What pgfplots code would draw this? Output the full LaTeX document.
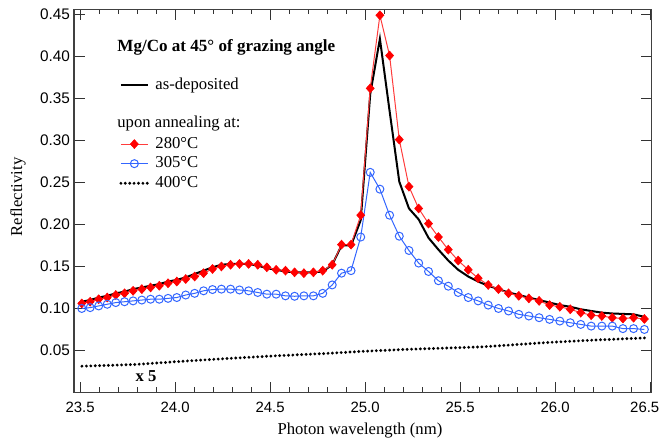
\documentclass[border=0pt]{standalone}
\usepackage{fontspec}
\setmainfont{Liberation Serif}
\setsansfont{Liberation Sans}
\usepackage{pgfplots}
\pgfplotsset{compat=1.18}
\definecolor{cblue}{RGB}{51,102,255}
\definecolor{cred}{RGB}{255,0,0}
\definecolor{credl}{RGB}{255,60,60}
\begin{document}
\begin{tikzpicture}
\useasboundingbox (0,0) rectangle (495pt,330.75pt);
\begin{axis}[
  at={(55.5pt,36.4pt)}, anchor=south west,
  scale only axis, width=433.2pt, height=287.5pt,
  xmin=23.468, xmax=26.508, ymin=0, ymax=0.4563,
  xtick={23.5,24.0,24.5,25.0,25.5,26.0,26.5},
  xticklabels={23.5,24.0,24.5,25.0,25.5,26.0,\hspace*{-8pt}26.5},
  minor x tick num=4,
  ytick={0.05,0.10,0.15,0.20,0.25,0.30,0.35,0.40,0.45},
  major tick length=7.9pt, minor tick length=4pt,
  axis line style={black!75, line width=0.9pt},
  every tick/.style={black!80, line width=0.8pt},
  /pgf/number format/assume math mode=true,
  xticklabel style={font=\sffamily\fontsize{11.2}{12}\selectfont, yshift=-3.5pt},
  yticklabel style={font=\sffamily\fontsize{11.5}{12}\selectfont, xshift=0.5pt,
    /pgf/number format/.cd, fixed, fixed zerofill, precision=2},
  scaled y ticks=false, scaled x ticks=false,
  xlabel={Photon wavelength (nm)},
  ylabel={Reflectivity},
  every axis x label/.style={at={(axis description cs:0.495,-0.098)}, anchor=center, font=\fontsize{12.5}{14}\selectfont},
  every axis y label/.style={at={(axis description cs:-0.097,0.51)}, rotate=90, anchor=center, font=\fontsize{12.5}{14}\selectfont},
  legend image code/.code={\draw[mark repeat=2,mark phase=2] plot coordinates {(0cm,0cm) (0.355cm,0cm) (0.71cm,0cm)};},
  legend style={at={(axis cs:23.705,0.3755)}, anchor=north west, draw=none, fill=none,
    inner sep=0pt, row sep=2.7pt, column sep=4.5pt,
    font=\fontsize{12.5}{14}\selectfont,
    nodes={inner sep=0pt, text height=9pt, text depth=3pt, anchor=west}},
  legend cell align=left,
]
% as-deposited
\addplot[black, line width=1.5pt] coordinates {
(23.509,0.108) (23.553,0.110) (23.598,0.113) (23.643,0.115) (23.688,0.118)
(23.734,0.120) (23.779,0.123) (23.825,0.125) (23.871,0.127) (23.917,0.129)
(23.963,0.132) (24.009,0.134) (24.056,0.137) (24.103,0.141) (24.150,0.145)
(24.197,0.149) (24.244,0.152) (24.292,0.153) (24.339,0.153) (24.387,0.153)
(24.435,0.151) (24.483,0.148) (24.532,0.146) (24.581,0.144) (24.629,0.143)
(24.678,0.143) (24.728,0.143) (24.777,0.144) (24.827,0.152) (24.876,0.175)
(24.926,0.175) (24.977,0.205) (25.027,0.355) (25.078,0.421) (25.129,0.335)
(25.180,0.251) (25.231,0.219) (25.282,0.206) (25.334,0.184) (25.386,0.170)
(25.438,0.157) (25.490,0.146) (25.543,0.138) (25.595,0.132) (25.648,0.127)
(25.702,0.123) (25.755,0.119) (25.809,0.116) (25.862,0.113) (25.916,0.110)
(25.971,0.107) (26.025,0.104) (26.080,0.102) (26.135,0.099) (26.190,0.097)
(26.246,0.095) (26.301,0.094) (26.357,0.0935) (26.413,0.093) (26.470,0.090)
};
\addlegendentry{as-deposited}
\addlegendimage{empty legend}\addlegendentry{}
\addlegendimage{empty legend}\addlegendentry{}
% 280 C
\addplot[credl, line width=0.75pt, mark=diamond*, mark size=3.3pt,
  mark options={fill=cred, draw=cred, line width=0.5pt, xscale=1.2}] coordinates {
(23.509,0.106) (23.553,0.108) (23.598,0.111) (23.643,0.113) (23.688,0.116)
(23.734,0.118) (23.779,0.121) (23.825,0.123) (23.871,0.125) (23.917,0.127)
(23.963,0.130) (24.009,0.132) (24.056,0.135) (24.103,0.138) (24.150,0.142)
(24.197,0.147) (24.244,0.150) (24.292,0.152) (24.339,0.153) (24.387,0.153)
(24.435,0.152) (24.483,0.149) (24.532,0.146) (24.581,0.145) (24.629,0.143)
(24.678,0.142) (24.728,0.143) (24.777,0.145) (24.827,0.152) (24.876,0.176)
(24.926,0.176) (24.977,0.211) (25.027,0.362) (25.078,0.449) (25.129,0.401)
(25.180,0.301) (25.231,0.245) (25.282,0.219) (25.334,0.201) (25.386,0.185)
(25.438,0.170) (25.490,0.157) (25.543,0.146) (25.595,0.136) (25.648,0.128)
(25.702,0.123) (25.755,0.118) (25.809,0.115) (25.862,0.112) (25.916,0.109)
(25.971,0.104) (26.025,0.102) (26.080,0.099) (26.135,0.095) (26.190,0.092)
(26.246,0.091) (26.301,0.089) (26.357,0.088) (26.413,0.089) (26.470,0.0875)
};
\addlegendentry{280°C}
% 305 C
\addplot[cblue, line width=0.75pt, mark=o, mark size=3pt,
  mark options={draw=cblue, line width=0.75pt}] coordinates {
(23.509,0.100) (23.553,0.101) (23.598,0.103) (23.643,0.105) (23.688,0.107)
(23.734,0.108) (23.779,0.109) (23.825,0.110) (23.871,0.111) (23.917,0.111)
(23.963,0.112) (24.009,0.113) (24.056,0.116) (24.103,0.118) (24.150,0.121)
(24.197,0.1225) (24.244,0.123) (24.292,0.123) (24.339,0.122) (24.387,0.121)
(24.435,0.119) (24.483,0.117) (24.532,0.117) (24.581,0.115) (24.629,0.1145)
(24.678,0.115) (24.728,0.115) (24.777,0.118) (24.827,0.128) (24.876,0.142)
(24.926,0.145) (24.977,0.185) (25.027,0.262) (25.078,0.242) (25.129,0.211)
(25.180,0.186) (25.231,0.169) (25.282,0.154) (25.334,0.144) (25.386,0.133)
(25.438,0.1265) (25.490,0.119) (25.543,0.113) (25.595,0.109) (25.648,0.104)
(25.702,0.100) (25.755,0.097) (25.809,0.093) (25.862,0.091) (25.916,0.089)
(25.971,0.087) (26.025,0.085) (26.080,0.083) (26.135,0.081) (26.190,0.079)
(26.246,0.079) (26.301,0.079) (26.357,0.076) (26.413,0.076) (26.470,0.075)
};
\addlegendentry{305°C}
% 400 C (x5)
\addplot[black, line width=2.4pt, line cap=round, dash pattern=on 0pt off 3.3pt] coordinates {
(23.51,0.0313) (23.79,0.0333) (24.05,0.0373) (24.28,0.0405) (24.53,0.0436)
(24.80,0.0465) (24.99,0.0490) (25.24,0.0515) (25.62,0.0543) (25.96,0.0595)
(26.20,0.0623) (26.48,0.0650)
};
\addlegendentry{400°C}
\node[anchor=west, font=\bfseries\fontsize{12.8}{14}\selectfont, inner sep=0pt] at (axis cs:23.695,0.411) {Mg/Co at 45° of grazing angle};
\node[anchor=west, font=\fontsize{12.5}{14}\selectfont, inner sep=0pt] at (axis cs:23.695,0.3205) {upon annealing at:};
\node[anchor=center, font=\bfseries\fontsize{12.5}{14}\selectfont, inner sep=0pt] at (axis cs:23.847,0.0194) {x 5};
\end{axis}
\end{tikzpicture}
\end{document}
